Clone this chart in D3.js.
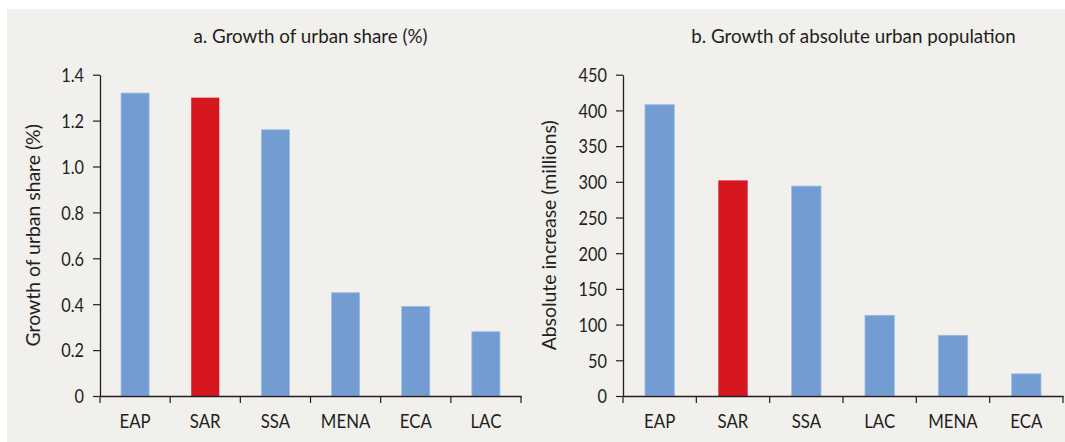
<!DOCTYPE html>
<html><head><meta charset="utf-8">
<script src="https://cdn.jsdelivr.net/npm/d3@7"></script>
<style>
html,body{margin:0;padding:0;background:#fff;}
svg{display:block;}
text{font-family:Lato,"Open Sans",sans-serif;fill:#231f20;}
</style></head>
<body>
<svg id="chart" width="1065" height="442"></svg>
<script>
// Panel a
const catsA = ["EAP","SAR","SSA","MENA","ECA","LAC"];
const valsA = [1.32,1.30,1.16,0.45,0.39,0.28];
const ticksA = [0,0.2,0.4,0.6,0.8,1.0,1.2,1.4];
const titleA = "a. Growth of urban share (%)";
const yLabelA = "Growth of urban share (%)";
// Panel b
const catsB = ["EAP","SAR","SSA","LAC","MENA","ECA"];
const valsB = [408,302,294,113,85,31];
const ticksB = [0,50,100,150,200,250,300,350,400,450];
const titleB = "b. Growth of absolute urban population";
const yLabelB = "Absolute increase (millions)";
const highlight = "SAR";

const INK = "#231f20";
const svg = d3.select("#chart");
svg.append("rect").attr("x",7).attr("y",9).attr("width",1058).attr("height",433).attr("fill","#f1f0ec");

function panel(cfg){
  const g = svg.append("g");
  const x = d3.scaleBand().domain(cfg.cats).range([cfg.x0,cfg.x1]).padding(0);
  const y = d3.scaleLinear().domain([0,cfg.max]).range([cfg.yb,cfg.yt]);
  const bw = x.bandwidth()*0.4;
  g.selectAll("rect.bar").data(cfg.cats).join("rect")
    .attr("class","bar")
    .attr("x",d=>x(d)+x.bandwidth()/2-bw/2)
    .attr("width",bw)
    .attr("y",(d,i)=>y(cfg.vals[i]))
    .attr("height",(d,i)=>y(0)-y(cfg.vals[i]))
    .attr("fill",d=>d===highlight?"#d7171f":"#739dd2")
    .attr("stroke",d=>d===highlight?"none":"#9dbbe3")
    .attr("stroke-width",0.8);
  // y axis
  const ya = g.append("g").attr("transform",`translate(${cfg.x0},0)`)
    .call(d3.axisLeft(y).tickValues(cfg.ticks).tickFormat(cfg.fmt).tickSize(7).tickSizeOuter(0).tickPadding(9));
  ya.selectAll("text").attr("x",0).attr("dy","0.36em")
    .attr("transform","translate(-16,0) scale(0.86,1)")
    .style("font-size","19px").attr("fill",INK);
  // x axis
  const xa = g.append("g").attr("transform",`translate(0,${cfg.yb})`)
    .call(d3.axisBottom(x).tickSize(0).tickPadding(0));
  xa.selectAll("text").attr("y",0).attr("dy",0)
    .attr("transform","translate(0,32) scale(0.84,1)")
    .style("font-size","20px").attr("fill",INK);
  // boundary ticks
  const edges = cfg.cats.map(c=>x(c)).concat([cfg.x1]);
  g.selectAll("line.edge").data(edges).join("line").attr("class","edge")
    .attr("x1",d=>d).attr("x2",d=>d).attr("y1",cfg.yb).attr("y2",cfg.yb+7)
    .attr("stroke",INK).attr("stroke-width",1.2);
  g.selectAll(".domain").attr("stroke",INK).attr("stroke-width",1.3);
  g.selectAll(".tick line").attr("stroke",INK).attr("stroke-width",1.2);
  // titles
  g.append("text").attr("transform",`translate(${cfg.tx},42.5) scale(0.94,1)`).attr("text-anchor","middle")
    .style("font-size","20px").text(cfg.title);
  g.append("text").attr("transform",`translate(${cfg.lx},${(cfg.yb+cfg.yt)/2}) rotate(-90) scale(0.97,1)`)
    .attr("text-anchor","middle").attr("dy","0.35em").style("font-size","20px").text(cfg.ylabel);
}

panel({cats:catsA, vals:valsA, ticks:ticksA, max:1.4, x0:100, x1:521, yb:396, yt:74.7,
  fmt:d=>d===0?"0":d3.format(".1f")(d), title:titleA, tx:310.5, ylabel:yLabelA, lx:33});
panel({cats:catsB, vals:valsB, ticks:ticksB, max:450, x0:623, x1:1063, yb:396, yt:74.7,
  fmt:d3.format("d"), title:titleB, tx:853.5, ylabel:yLabelB, lx:549});
</script>
</body></html>
